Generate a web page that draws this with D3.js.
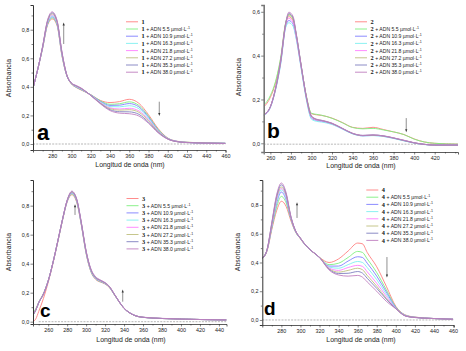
<!DOCTYPE html>
<html><head><meta charset="utf-8">
<script src="https://cdn.jsdelivr.net/npm/d3@7"></script>
<style>body{margin:0;background:#fff}svg{display:block}text{font-family:"Liberation Sans",Arial,sans-serif}</style>
</head><body><svg id="chart" width="466" height="351"></svg>
<script>
// ---------- data ----------
const colors = ["#ff7f7f","#7fef7f","#7f7fff","#7fefef","#ff7fff","#bfbf7f","#7f7fbf","#bf7fbf"];
const conc = ["", "5.5", "10.9", "16.3", "21.8", "27.2", "35.3", "38.0"];
const compounds = ["1","2","3","4"];
const panelLetters = ["a","b","c","d"];
const xTitle = "Longitud de onda (nm)";
const yTitle = "Absorbancia";

const xTicksA = [280,300,320,340,360,380,400,420,440,460];
const xTicksB = [260,280,300,320,340,360,380,400,420];
const xTicksC = [260,280,300,320,340,360,380,400,420,440];
const xTicksD = [280,300,320,340,360,380,400,420,440,460];
const yTicks08 = [0,0.2,0.4,0.6,0.8];
const yTicks06 = [0,0.2,0.4,0.6];

const wlA = [260,265,270,275,280,285,290,295,300,305,310,320,330,340,350,360,370,380,390,400,410,420,440,460];
const absA = [
 [0.39,0.525,0.67,0.83,0.875,0.83,0.62,0.48,0.42,0.395,0.378,0.345,0.305,0.29,0.297,0.313,0.285,0.205,0.108,0.042,0.019,0.012,0.008,0.005],
 [0.39,0.525,0.672,0.835,0.882,0.835,0.624,0.481,0.421,0.397,0.38,0.345,0.302,0.278,0.282,0.295,0.27,0.195,0.102,0.04,0.018,0.012,0.008,0.005],
 [0.39,0.525,0.674,0.84,0.89,0.84,0.628,0.482,0.422,0.399,0.382,0.344,0.298,0.27,0.272,0.283,0.26,0.188,0.098,0.039,0.018,0.011,0.007,0.005],
 [0.39,0.525,0.676,0.845,0.897,0.845,0.632,0.483,0.423,0.401,0.384,0.343,0.294,0.262,0.26,0.268,0.247,0.18,0.094,0.038,0.017,0.011,0.007,0.005],
 [0.39,0.525,0.678,0.85,0.904,0.85,0.636,0.484,0.424,0.403,0.386,0.342,0.29,0.253,0.245,0.25,0.232,0.17,0.09,0.037,0.017,0.011,0.007,0.004],
 [0.39,0.525,0.68,0.855,0.911,0.855,0.64,0.485,0.425,0.405,0.388,0.341,0.287,0.247,0.237,0.24,0.222,0.163,0.087,0.036,0.016,0.011,0.007,0.004],
 [0.39,0.525,0.682,0.86,0.918,0.86,0.644,0.486,0.426,0.407,0.39,0.34,0.284,0.24,0.226,0.225,0.208,0.153,0.082,0.035,0.016,0.01,0.006,0.004],
 [0.39,0.525,0.684,0.865,0.925,0.865,0.648,0.487,0.427,0.409,0.392,0.339,0.281,0.234,0.216,0.212,0.196,0.145,0.078,0.034,0.016,0.01,0.006,0.004]
];

const wlB = [253.5,260,265,270,275,278,282,285,290,295,300,305,310,320,330,340,350,360,370,380,390,400,410,420,443];
const absB = [
 [0.165,0.21,0.275,0.385,0.55,0.578,0.56,0.495,0.35,0.215,0.135,0.13,0.127,0.115,0.095,0.073,0.068,0.073,0.063,0.052,0.04,0.02,0.006,0.0,-0.004],
 [0.173,0.218,0.282,0.39,0.553,0.585,0.567,0.5,0.352,0.217,0.137,0.132,0.128,0.114,0.094,0.072,0.066,0.068,0.061,0.052,0.04,0.019,0.006,0.0,-0.004],
 [0.128,0.165,0.245,0.365,0.535,0.56,0.545,0.485,0.345,0.205,0.115,0.104,0.1,0.088,0.066,0.044,0.034,0.036,0.032,0.023,0.012,0.002,-0.005,-0.008,-0.008],
 [0.126,0.163,0.242,0.36,0.53,0.55,0.535,0.48,0.34,0.2,0.11,0.1,0.097,0.086,0.065,0.043,0.034,0.035,0.031,0.022,0.011,0.001,-0.006,-0.008,-0.008],
 [0.128,0.165,0.246,0.368,0.54,0.57,0.553,0.49,0.348,0.208,0.118,0.106,0.102,0.089,0.067,0.045,0.035,0.037,0.033,0.024,0.013,0.002,-0.005,-0.008,-0.008],
 [0.13,0.167,0.248,0.372,0.545,0.588,0.57,0.5,0.352,0.21,0.122,0.108,0.104,0.09,0.068,0.045,0.035,0.037,0.033,0.024,0.013,0.002,-0.005,-0.008,-0.008],
 [0.13,0.167,0.249,0.374,0.548,0.592,0.574,0.503,0.354,0.212,0.124,0.109,0.104,0.091,0.068,0.045,0.036,0.038,0.034,0.024,0.013,0.002,-0.005,-0.008,-0.008],
 [0.131,0.168,0.25,0.376,0.55,0.598,0.58,0.506,0.356,0.213,0.125,0.11,0.105,0.092,0.069,0.046,0.036,0.038,0.034,0.025,0.014,0.003,-0.005,-0.008,-0.008]
];

const wlC = [244,247,250,255,260,265,270,275,280,285,290,295,300,305,310,315,320,325,330,340,350,360,380,400,420,448];
const absC = [
 [0.0,0.02,0.07,0.16,0.27,0.4,0.545,0.695,0.825,0.875,0.825,0.665,0.47,0.345,0.292,0.273,0.26,0.232,0.183,0.091,0.046,0.03,0.022,0.018,0.015,0.012],
 [0.06,0.09,0.135,0.195,0.282,0.405,0.548,0.698,0.828,0.88,0.83,0.668,0.473,0.348,0.295,0.276,0.262,0.233,0.184,0.092,0.046,0.03,0.022,0.018,0.015,0.012],
 [0.048,0.082,0.13,0.19,0.28,0.405,0.55,0.70,0.83,0.885,0.835,0.67,0.476,0.351,0.297,0.278,0.263,0.234,0.185,0.092,0.046,0.03,0.022,0.018,0.015,0.012],
 [0.046,0.08,0.13,0.19,0.28,0.405,0.55,0.70,0.832,0.888,0.838,0.673,0.478,0.353,0.299,0.279,0.264,0.235,0.185,0.092,0.046,0.03,0.022,0.018,0.015,0.012],
 [0.046,0.08,0.13,0.19,0.28,0.405,0.55,0.70,0.833,0.89,0.84,0.675,0.48,0.356,0.301,0.281,0.265,0.236,0.186,0.092,0.046,0.03,0.022,0.018,0.015,0.012],
 [0.045,0.08,0.13,0.19,0.28,0.405,0.551,0.701,0.835,0.893,0.842,0.677,0.482,0.358,0.303,0.283,0.266,0.237,0.186,0.093,0.046,0.03,0.022,0.018,0.015,0.012],
 [0.045,0.08,0.13,0.19,0.281,0.406,0.552,0.702,0.836,0.896,0.845,0.68,0.485,0.361,0.306,0.285,0.268,0.238,0.187,0.093,0.047,0.03,0.022,0.018,0.015,0.012],
 [0.05,0.083,0.132,0.192,0.282,0.407,0.553,0.703,0.838,0.9,0.848,0.683,0.488,0.365,0.31,0.288,0.27,0.24,0.188,0.094,0.047,0.031,0.023,0.018,0.015,0.012]
];

const wlD = [260,265,270,275,280,285,290,295,300,305,310,320,330,340,350,360,365,370,380,390,400,410,420,440,460];
const absD = [
 [0.43,0.48,0.63,0.76,0.826,0.79,0.69,0.61,0.565,0.52,0.49,0.435,0.40,0.425,0.48,0.535,0.53,0.47,0.37,0.235,0.095,0.035,0.02,0.01,0.005],
 [0.43,0.485,0.64,0.785,0.86,0.815,0.70,0.612,0.566,0.521,0.49,0.435,0.385,0.395,0.435,0.477,0.47,0.425,0.33,0.21,0.09,0.033,0.019,0.01,0.005],
 [0.43,0.486,0.65,0.81,0.89,0.835,0.705,0.614,0.567,0.522,0.49,0.435,0.375,0.375,0.41,0.44,0.435,0.395,0.305,0.195,0.087,0.032,0.019,0.01,0.005],
 [0.43,0.487,0.655,0.825,0.905,0.85,0.71,0.615,0.568,0.523,0.49,0.435,0.368,0.36,0.385,0.407,0.40,0.365,0.28,0.18,0.083,0.031,0.018,0.01,0.005],
 [0.43,0.488,0.66,0.84,0.915,0.86,0.712,0.617,0.568,0.523,0.49,0.435,0.362,0.345,0.365,0.38,0.373,0.335,0.255,0.165,0.08,0.03,0.018,0.01,0.005],
 [0.43,0.489,0.668,0.85,0.925,0.868,0.715,0.618,0.569,0.524,0.49,0.435,0.357,0.333,0.345,0.36,0.35,0.31,0.235,0.15,0.078,0.029,0.018,0.01,0.005],
 [0.43,0.49,0.674,0.86,0.94,0.876,0.718,0.619,0.569,0.524,0.49,0.435,0.353,0.323,0.325,0.337,0.326,0.29,0.22,0.145,0.08,0.028,0.017,0.01,0.005],
 [0.43,0.49,0.68,0.87,0.953,0.885,0.72,0.62,0.57,0.525,0.49,0.435,0.348,0.313,0.305,0.31,0.298,0.265,0.20,0.13,0.078,0.027,0.017,0.01,0.005]
];

// blank (solvent) baselines
const blankWlA = [260,460], blankA = [0,0];
const blankWlB = [253.5,443], blankB = [-0.004,-0.004];
const blankWlC = [250,448], blankC = [0,0];
const blankWlD = [260,461], blankD = [0,0];

// ---------- drawing ----------
const svg = d3.select("#chart");

const panels = [
 {wl:wlA, abs:absA, bw:blankWlA, bv:blankA, xd:[260,460], xr:[33,225.5], yd:[-0.042,0.973], yr:[150,5], xt:xTicksA, yt:yTicks08,
  leg:{x:126,y:21.8}, letter:{x:37,y:140,s:22}, xti:{x:130,y:167}, yti:{x:9,y:78},
  arrows:[[291.9,0.70,0.85],[391.2,0.296,0.196]], axW:1},
 {wl:wlB, abs:absB, bw:blankWlB, bv:blankB, xd:[253.5,442.7], xr:[263.7,458], yd:[-0.0397,0.631], yr:[152,5], xt:xTicksB, yt:yTicks06,
  leg:{x:355,y:21.8}, letter:{x:267,y:137.5,s:21}, xti:{x:361,y:168}, yti:{x:239,y:77},
  arrows:[[392.3,0.115,0.05]], axW:1.6},
 {wl:wlC, abs:absC, bw:blankWlC, bv:blankC, xd:[244,448], xr:[33,226.5], yd:[-0.016,0.977], yr:[324,180], xt:xTicksC, yt:yTicks08,
  leg:{x:126.5,y:198.5}, letter:{x:40,y:317,s:19}, xti:{x:131,y:342}, yti:{x:9,y:252},
  arrows:[[288.3,0.736,0.81],[338.6,0.138,0.222]], axW:1},
 {wl:wlD, abs:absD, bw:blankWlD, bv:blankD, xd:[260,461], xr:[262.3,454], yd:[-0.035,0.974], yr:[325,180], xt:xTicksD, yt:yTicks08,
  leg:{x:366.3,y:190}, letter:{x:264,y:315,s:19}, xti:{x:361,y:342}, yti:{x:238,y:252},
  arrows:[[296.4,0.71,0.82],[390.7,0.438,0.295]], axW:1}
];

const fmt = d => d3.format(".1f")(d).replace(".", ",");

panels.forEach((p, pi) => {
  const x = d3.scaleLinear().domain(p.xd).range(p.xr);
  const y = d3.scaleLinear().domain(p.yd).range(p.yr);
  const g = svg.append("g");
  const clipId = "clip" + pi;
  svg.append("clipPath").attr("id", clipId).append("rect")
    .attr("x", p.xr[0]).attr("y", p.yr[1]).attr("width", p.xr[1]-p.xr[0]).attr("height", p.yr[0]-p.yr[1]);

  const line = d3.line().x(d => x(d[0])).y(d => y(d[1])).curve(d3.curveMonotoneX);
  const plot = g.append("g").attr("clip-path", `url(#${clipId})`);

  plot.append("path").datum(p.bw.map((w,i)=>[w,p.bv[i]]))
    .attr("d", line).attr("fill","none").attr("stroke","#9a9a9a").attr("stroke-width",0.7).attr("stroke-dasharray","2,1.2");

  p.abs.forEach((s, si) => {
    plot.append("path").datum(p.wl.map((w,i)=>[w, s[i]]))
      .attr("d", line).attr("fill","none").attr("stroke", colors[si]).attr("stroke-width", 0.9);
  });

  const minorX = d3.range(p.xd[0] - p.xd[0]%10 + 10, p.xd[1]+0.01, 10).filter(v => v>=p.xd[0] && !p.xt.includes(v));
  const minorY = d3.range(0, p.yd[1], 0.1).filter(v => Math.abs(Math.round(v*10)%2) === 1);

  const xa = g.append("g").attr("transform", `translate(0,${p.yr[0]})`)
    .call(d3.axisBottom(x).tickValues(p.xt).tickFormat(d3.format("d")).tickSize(2.5).tickPadding(1.2));
  g.append("g").attr("transform", `translate(0,${p.yr[0]})`)
    .call(d3.axisBottom(x).tickValues(minorX).tickFormat("").tickSize(1.5))
    .call(a => a.select(".domain").remove());
  const ya = g.append("g").attr("transform", `translate(${p.xr[0]},0)`)
    .call(d3.axisLeft(y).tickValues(p.yt).tickFormat(fmt).tickSize(2.5).tickPadding(1.2));
  g.append("g").attr("transform", `translate(${p.xr[0]},0)`)
    .call(d3.axisLeft(y).tickValues(minorY).tickFormat("").tickSize(1.5))
    .call(a => a.select(".domain").remove());

  [xa, ya].forEach(a => {
    a.selectAll("text").attr("font-size", 5.4).attr("fill", "#222").attr("font-family", "Liberation Sans, Arial, sans-serif");
  });
  xa.select(".domain").attr("stroke", "#333").attr("stroke-width", 0.8);
  ya.select(".domain").attr("stroke", p.axW > 1 ? "#777" : "#333").attr("stroke-width", p.axW);
  g.selectAll(".tick line").attr("stroke", "#333").attr("stroke-width", 0.6);

  g.append("text").attr("x", p.xti.x).attr("y", p.xti.y).attr("text-anchor","middle")
    .attr("font-size", 6.9).attr("fill","#222").text(xTitle);
  g.append("text").attr("transform", `translate(${p.yti.x},${p.yti.y}) rotate(-90)`).attr("text-anchor","middle")
    .attr("dy", "0.35em").attr("font-size", 6.9).attr("fill","#222").text(yTitle);

  g.append("text").attr("x", p.letter.x).attr("y", p.letter.y).attr("font-size", p.letter.s)
    .attr("font-weight","bold").attr("fill","#000").text(panelLetters[pi]);

  p.arrows.forEach(a => {
    const ax = x(a[0]), y1 = y(a[1]), y2 = y(a[2]);
    const dir = y2 < y1 ? -1 : 1;
    g.append("line").attr("x1", ax).attr("x2", ax).attr("y1", y1).attr("y2", y2 - dir*2.5)
      .attr("stroke","#444").attr("stroke-width",0.6);
    g.append("path").attr("d", `M${ax},${y2} L${ax-1.1},${y2-dir*3} L${ax+1.1},${y2-dir*3} Z`).attr("fill","#333");
  });

  // legend
  const lg = g.append("g");
  conc.forEach((c, i) => {
    const ry = p.leg.y + i*7.2;
    lg.append("line").attr("x1", p.leg.x).attr("x2", p.leg.x+12).attr("y1", ry).attr("y2", ry)
      .attr("stroke", colors[i]).attr("stroke-width", 0.9);
    const t = lg.append("text").attr("x", p.leg.x+15.5).attr("y", ry+2.2).attr("fill","#111");
    t.append("tspan").attr("font-size", 6.3).attr("font-weight","bold")
      .attr("font-family","Liberation Serif, serif").text(compounds[pi]);
    if (c) {
      t.append("tspan").attr("dx", 1.6).attr("dy", -0.2).attr("font-size", 5.1).attr("fill","#222")
        .text(`+ ADN ${c} \u00b5mol\u00b7L`);
      t.append("tspan").attr("dy", -2).attr("font-size", 3.6).attr("fill","#222").text("-1");
    }
  });
});
</script>
</body></html>
